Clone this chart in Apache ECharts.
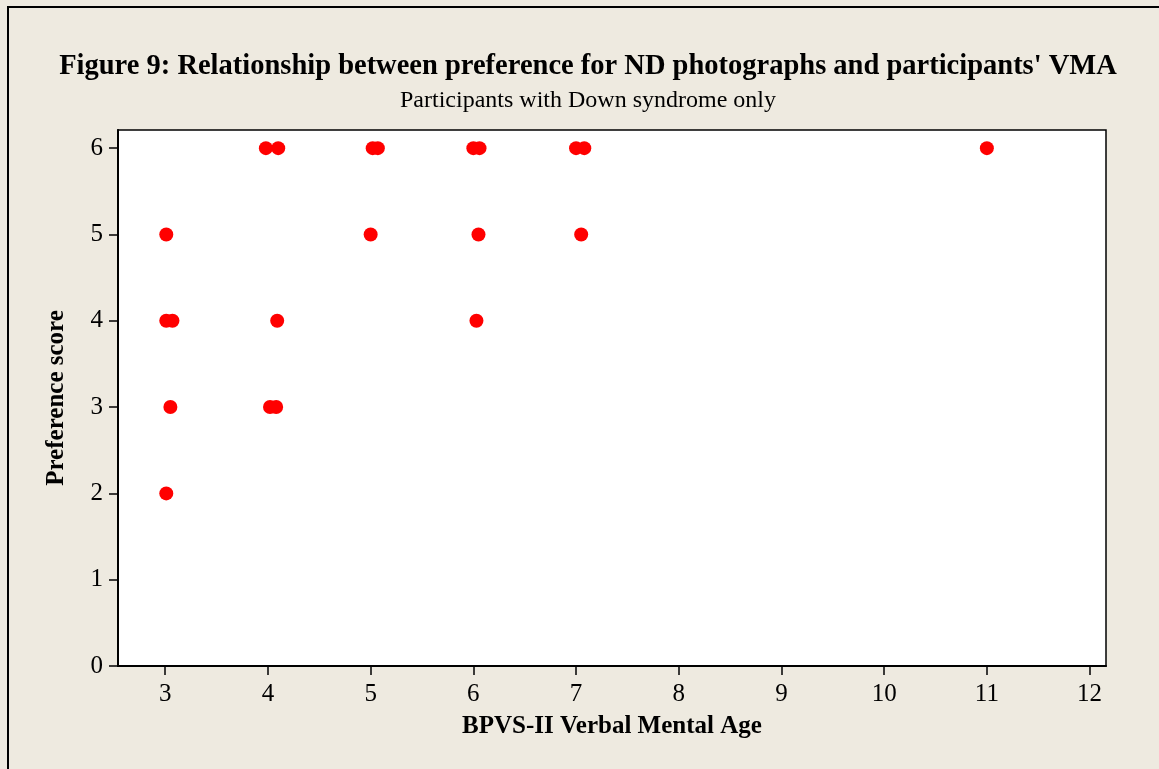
<!DOCTYPE html>
<html>
<head>
<meta charset="utf-8">
<script src="https://cdn.jsdelivr.net/npm/echarts@6/dist/echarts.min.js"></script>
<style>
  html, body { margin: 0; padding: 0; background: #eeeae0; }
  #chart { width: 1159px; height: 769px; }
</style>
</head>
<body>
<div id="chart"></div>
<script>
// BPVS-II verbal mental age (years) and preference score per participant
const vmaValues = [3.98, 4.10, 5.02, 5.07, 6.00, 6.06, 7.00, 7.08, 11.00,
                   3.01, 5.00, 6.05, 7.05,
                   3.01, 3.07, 4.09, 6.03,
                   3.05, 4.02, 4.08,
                   3.01]
const preferenceScores = [6, 6, 6, 6, 6, 6, 6, 6, 6,
                          5, 5, 5, 5,
                          4, 4, 4, 4,
                          3, 3, 3,
                          2]
const xTicks = [3, 4, 5, 6, 7, 8, 9, 10, 11, 12]
const yTicks = [0, 1, 2, 3, 4, 5, 6]

const points = vmaValues.map((v, i) => [v, preferenceScores[i]])

const chart = echarts.init(document.getElementById('chart'))
const serif = '"Liberation Serif", "DejaVu Serif", serif'

chart.setOption({
  backgroundColor: '#eeeae0',
  animation: false,
  title: {
    text: "Figure 9: Relationship between preference for ND photographs and participants' VMA",
    subtext: 'Participants with Down syndrome only',
    left: 583,
    top: 47,
    textAlign: 'center',
    itemGap: 8,
    textStyle: { fontFamily: serif, fontWeight: 'bold', fontSize: 28.5, color: '#000' },
    subtextStyle: { fontFamily: serif, fontSize: 24, color: '#000' },
  },
  graphic: [
    {
      type: 'rect',
      shape: { x: 8, y: 7, width: 1300, height: 900 },
      style: { fill: 'none', stroke: '#000', lineWidth: 2 },
      silent: true,
    },
  ],
  grid: {
    left: 118,
    top: 130,
    right: 53,
    bottom: 103,
    show: true,
    backgroundColor: '#fff',
    borderColor: '#000',
    borderWidth: 1.5,
  },
  xAxis: {
    type: 'value',
    min: 2.54,
    max: 12.16,
    name: 'BPVS-II Verbal Mental Age',
    nameLocation: 'middle',
    nameGap: 48,
    nameTextStyle: { fontFamily: serif, fontWeight: 'bold', fontSize: 25, color: '#000' },
    splitLine: { show: false },
    axisLine: { onZero: false, lineStyle: { color: '#000', width: 2 } },
    axisTick: { show: true, length: 9, customValues: xTicks, lineStyle: { color: '#000', width: 1.5 } },
    axisLabel: { customValues: xTicks, margin: 16, fontFamily: serif, fontSize: 25, color: '#000' },
  },
  yAxis: {
    type: 'value',
    min: 0,
    max: 6.21,
    name: 'Preference score',
    nameLocation: 'middle',
    nameGap: 49,
    nameTextStyle: { fontFamily: serif, fontWeight: 'bold', fontSize: 25, color: '#000' },
    splitLine: { show: false },
    axisLine: { onZero: false, lineStyle: { color: '#000', width: 2 } },
    axisTick: { show: true, length: 9, customValues: yTicks, lineStyle: { color: '#000', width: 1.5 } },
    axisLabel: { customValues: yTicks, margin: 15, fontFamily: serif, fontSize: 25, color: '#000' },
  },
  series: [
    {
      type: 'scatter',
      data: points,
      symbol: 'circle',
      symbolSize: 14,
      itemStyle: { color: '#ff0000', opacity: 1 },
    },
  ],
})
</script>
</body>
</html>
